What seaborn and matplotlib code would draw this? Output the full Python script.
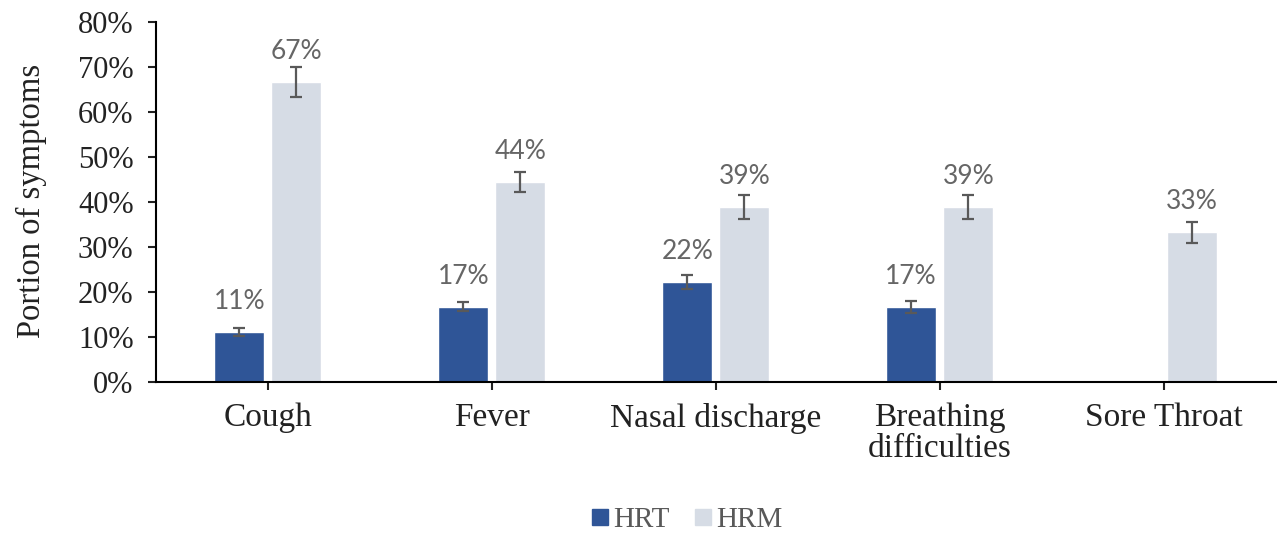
import pandas as pd
import numpy as np
import matplotlib.pyplot as plt
import seaborn as sns

# Symptom share per group
symptoms = ['Cough', 'Fever', 'Nasal discharge', 'Breathing\ndifficulties', 'Sore Throat']
groups = ['HRT', 'HRM']
hrt_values = [0.111, 0.167, 0.222, 0.167, 0.0]
hrm_values = [0.667, 0.444, 0.389, 0.389, 0.333]
hrt_err = [0.008, 0.010, 0.015, 0.013, 0.0]
hrm_err = [0.033, 0.022, 0.026, 0.026, 0.023]

colors = {'HRT': '#2F5597', 'HRM': '#D6DCE5'}

df = pd.DataFrame({
    'symptom': symptoms * 2,
    'group': ['HRT'] * len(symptoms) + ['HRM'] * len(symptoms),
    'value': hrt_values + hrm_values,
    'err': hrt_err + hrm_err,
})

sns.set_style('white')
plt.rcParams['font.family'] = ['Liberation Serif', 'DejaVu Serif']

fig = plt.figure(figsize=(12.77, 5.38), dpi=100)
ax = fig.add_axes([0.122, 0.290, 0.877, 0.669])

sns.barplot(data=df, x='symptom', y='value', hue='group', hue_order=groups,
            palette=colors, width=0.51, gap=0.125, errorbar=None,
            legend=True, ax=ax, saturation=1)

# error bars and value labels from the bar patches
for container, grp in zip(ax.containers, groups):
    sub = df[df['group'] == grp]
    for bar, (_, row) in zip(container, sub.iterrows()):
        cx = bar.get_x() + bar.get_width() / 2
        h = bar.get_height()
        if h <= 0:
            continue
        ax.errorbar(cx, h, yerr=row['err'], color='#595959', capsize=4.5,
                    elinewidth=1.6, capthick=1.6, zorder=5)
        ax.annotate(f'{h * 100:.0f}%', (cx, h), xytext=(0, 13),
                    textcoords='offset points', ha='center', va='bottom',
                    fontsize=19, color='#666666', family=['Lato', 'DejaVu Sans'])

ax.set_ylim(0, 0.8)
ax.set_xlim(-0.5, 4.5)
ax.set_yticks(np.arange(0, 0.81, 0.1))
ax.set_yticklabels([f'{int(round(v * 100))}%' for v in np.arange(0, 0.81, 0.1)])
ax.tick_params(axis='y', labelsize=22, length=6, width=1.5, direction='out',
               left=True, pad=10, colors='#222222')
ax.tick_params(axis='x', labelsize=24, length=6, width=1.5, direction='out',
               bottom=True, pad=9, colors='#222222')
for lab in ax.get_xticklabels():
    lab.set_linespacing(1.0)

ax.set_xlabel('')
ax.set_ylabel('Portion of symptoms', fontsize=23.5, color='#222222')
ax.yaxis.set_label_coords(-0.097, 0.503)

sns.despine(ax=ax)
for side in ['left', 'bottom']:
    ax.spines[side].set_color('black')
    ax.spines[side].set_linewidth(1.5)

ax.legend_.remove()
handles = [plt.Line2D([], [], marker='s', linestyle='', markersize=12,
                      markerfacecolor=colors[g], markeredgecolor=colors[g]) for g in groups]
fig.legend(handles, groups, loc='center', bbox_to_anchor=(0.536, 0.033), ncol=2,
           frameon=False, fontsize=21, handletextpad=0.0, columnspacing=0.7,
           handlelength=0.9, labelcolor='#595959')

plt.savefig('out.png', dpi=100)
